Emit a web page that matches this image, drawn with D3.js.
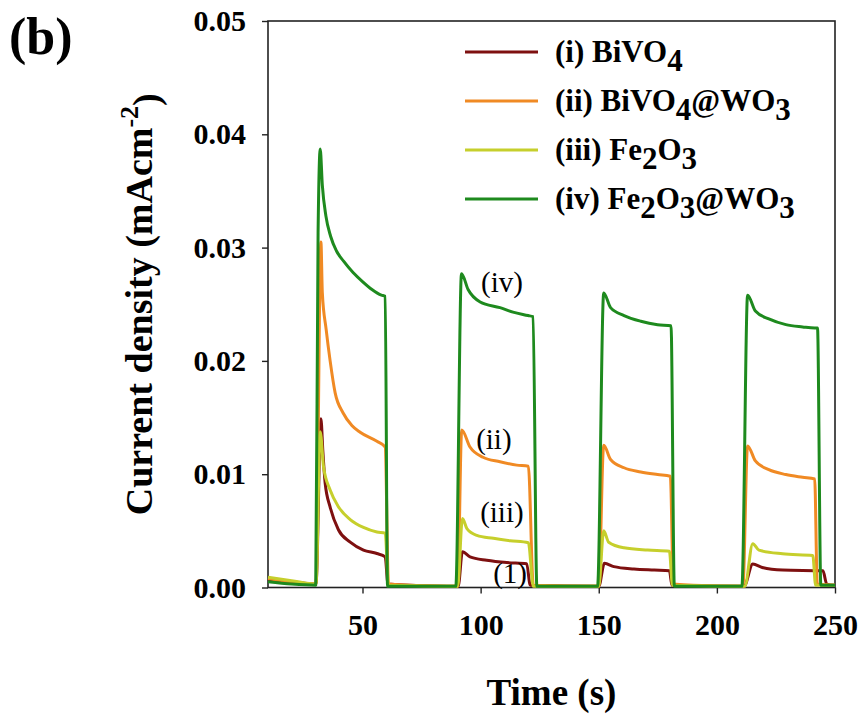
<!DOCTYPE html>
<html>
<head>
<meta charset="utf-8">
<script src="https://cdn.jsdelivr.net/npm/d3@7"></script>
<style>
  html, body { margin: 0; padding: 0; background: #ffffff; }
  svg { display: block; }
  text { font-family: "Liberation Serif", "Times New Roman", serif; fill: #000; }
</style>
</head>
<body>
<svg id="chart" width="863" height="720"></svg>
<script>
// ---------- data (time in s, current density in mA cm^-2) ----------
const xTicks = [50, 100, 150, 200, 250];
const yTicks = [0.00, 0.01, 0.02, 0.03, 0.04, 0.05];

const bivo4 = [
  [10, 0.0007], [20, 0.0005], [30.3, 0.0003], [32.4, 0.0149], [33.2, 0.0121], [34.2, 0.0092],
  [36.3, 0.0071], [39.8, 0.0051], [44.8, 0.0040], [50.4, 0.0033], [56.1, 0.0030], [59.6, 0.0027],
  [60.8, 0.0003], [70, 0.0002], [90.5, 0.0001], [92.3, 0.00316], [95.5, 0.0027], [102.6, 0.0024],
  [111.1, 0.0022], [119.5, 0.0021], [121.0, 0.0002], [150.0, 0.0001], [152.4, 0.00214],
  [156.4, 0.00184], [164.9, 0.00163], [173.5, 0.00154], [179.9, 0.00148], [181.0, 0.0002],
  [211.5, 0.0001], [215.2, 0.00207], [219.2, 0.00177], [227.8, 0.00154], [244.9, 0.00148],
  [246.5, 0.0003], [250, 0.0002]
];

const bivo4Wo3 = [
  [10, 0.0008], [20, 0.0005], [30.3, 0.0003], [32.4, 0.0305], [33.0, 0.0260], [34.6, 0.0228],
  [36.3, 0.0200], [38.4, 0.0172], [41.8, 0.0154], [45.5, 0.0143], [49.0, 0.0137], [56.1, 0.0129],
  [59.6, 0.0124], [61.0, 0.0003], [70, 0.0002], [90.3, 0.0001], [92.0, 0.0139], [95.5, 0.0124],
  [101.0, 0.0115], [108.2, 0.0111], [115.3, 0.0108], [120.2, 0.0107], [122.3, 0.0002],
  [150.0, 0.0001], [152.1, 0.01256], [155.0, 0.0113], [160.7, 0.01057], [167.8, 0.0102],
  [174.9, 0.00997], [180.3, 0.00982], [181.6, 0.0003], [190, 0.0002], [211.0, 0.0001],
  [213.0, 0.0125], [216.3, 0.01117], [222.0, 0.0104], [229.2, 0.00997], [236.3, 0.00973],
  [241.4, 0.00958], [242.5, 0.0003], [250, 0.0002]
];

const fe2o3 = [
  [10, 0.0009], [20, 0.0006], [30.3, 0.0003], [32.1, 0.01375], [33.5, 0.01066], [36.3, 0.0086],
  [39.8, 0.00713], [44.8, 0.0060], [50.4, 0.0053], [56.1, 0.0049], [59.6, 0.0048], [61.0, 0.0002],
  [90.3, 0.0001], [92.3, 0.0061], [94.2, 0.0052], [98.4, 0.0046], [105.4, 0.00434],
  [112.5, 0.00413], [120.2, 0.00395], [122.3, 0.0001], [150.0, 0.0001], [152.1, 0.0050],
  [154.2, 0.0040], [160.7, 0.0035], [170.7, 0.0033], [179.9, 0.0032], [181.2, 0.0002],
  [211.8, 0.0001], [215.2, 0.00387], [217.8, 0.0033], [227.8, 0.00297], [240.6, 0.00282],
  [241.8, 0.0002], [250, 0.0002]
];

const fe2o3Wo3 = [
  [10, 0.0005], [20, 0.0003], [30.2, 0.0002], [31.2, 0.0313], [32.1, 0.0387], [33.0, 0.0355],
  [34.5, 0.0328], [36.5, 0.0310], [39.0, 0.0297], [42.0, 0.0288], [46.0, 0.0278], [50.0, 0.0270],
  [54.0, 0.0263], [58.0, 0.0258], [59.6, 0.0257], [60.6, 0.0001], [75, 0.0001], [89.5, 0.0001],
  [91.9, 0.0277], [94.7, 0.0263], [99.8, 0.0252], [108.2, 0.0247], [113.7, 0.0243],
  [120.1, 0.0240], [122.2, 0.0239], [123.8, 0.0001], [149.5, 0.0001], [152.1, 0.0260],
  [155.0, 0.0247], [160.7, 0.0240], [167.8, 0.0235], [174.9, 0.0232], [180.6, 0.0231],
  [182.0, 0.0001], [210.6, 0.0001], [213.0, 0.0258], [216.3, 0.0244], [222.0, 0.0237],
  [229.2, 0.0232], [236.3, 0.0230], [241.4, 0.0229], [242.6, 0.0229], [244.0, 0.0002],
  [250, 0.0002]
];

const seriesNames = ["(i) BiVO4", "(ii) BiVO4@WO3", "(iii) Fe2O3", "(iv) Fe2O3@WO3"];
const seriesColors = ["#7e1010", "#f08a24", "#c6cf2c", "#1e8a1e"];
const seriesData = [bivo4, bivo4Wo3, fe2o3, fe2o3Wo3];

const annotations = [
  { text: "(iv)", t: 100.2, v: 0.0261 },
  { text: "(ii)", t: 98.1, v: 0.0122 },
  { text: "(iii)", t: 99.8, v: 0.0058 },
  { text: "(1)", t: 105.3, v: 0.0004 }
];

// ---------- layout ----------
const svg = d3.select("#chart");
const mLeft = 268, mRight = 835, mTop = 21, mBottom = 587.5;
const x = d3.scaleLinear().domain([10, 250]).range([mLeft, mRight]);
const y = d3.scaleLinear().domain([0, 0.05]).range([mBottom, mTop]);

// frame
svg.append("rect")
  .attr("x", mLeft).attr("y", mTop)
  .attr("width", mRight - mLeft).attr("height", mBottom - mTop)
  .attr("fill", "none").attr("stroke", "#222").attr("stroke-width", 1.6);

// axes
const xAxis = d3.axisBottom(x).tickValues(xTicks).tickSize(6).tickPadding(20)
  .tickFormat(d3.format("d"));
const gx = svg.append("g").attr("transform", `translate(0,${mBottom})`).call(xAxis);
gx.select(".domain").remove();
gx.selectAll(".tick line").attr("stroke", "#222").attr("stroke-width", 1.4);
gx.selectAll(".tick text")
  .attr("font-family", "'Liberation Serif', 'Times New Roman', serif")
  .attr("font-size", 30).attr("font-weight", "bold").attr("fill", "#000");

const yAxis = d3.axisLeft(y).tickValues(yTicks).tickSize(6).tickPadding(16)
  .tickFormat(d3.format(".2f"));
const gy = svg.append("g").attr("transform", `translate(${mLeft},0)`).call(yAxis);
gy.select(".domain").remove();
gy.selectAll(".tick line").attr("stroke", "#222").attr("stroke-width", 1.4);
gy.selectAll(".tick text")
  .attr("font-family", "'Liberation Serif', 'Times New Roman', serif")
  .attr("font-size", 30).attr("font-weight", "bold").attr("fill", "#000");

// lines
const line = d3.line().curve(d3.curveMonotoneX).x(d => x(d[0])).y(d => y(d[1]));
seriesData.forEach((data, i) => {
  svg.append("path")
    .datum(data)
    .attr("d", line)
    .attr("fill", "none")
    .attr("stroke", seriesColors[i])
    .attr("stroke-width", 3)
    .attr("stroke-linejoin", "round");
});

// annotations
annotations.forEach(a => {
  svg.append("text")
    .attr("x", x(a.t)).attr("y", y(a.v))
    .attr("font-size", 29)
    .text(a.text);
});

// legend
const legendRows = [
  [["(i) BiVO", 0], ["4", 1]],
  [["(ii) BiVO", 0], ["4", 1], ["@WO", 0], ["3", 1]],
  [["(iii) Fe", 0], ["2", 1], ["O", 0], ["3", 1]],
  [["(iv) Fe", 0], ["2", 1], ["O", 0], ["3", 1], ["@WO", 0], ["3", 1]]
];
const legend = svg.append("g");
legendRows.forEach((parts, i) => {
  const ly = 52 + i * 49;
  legend.append("line")
    .attr("x1", 465).attr("x2", 538).attr("y1", ly).attr("y2", ly)
    .attr("stroke", seriesColors[i]).attr("stroke-width", 3);
  const t = legend.append("text")
    .attr("x", 555).attr("y", ly + 10)
    .attr("font-size", 31).attr("font-weight", "bold");
  let shifted = false;
  parts.forEach(([s, sub]) => {
    const ts = t.append("tspan").text(s);
    if (sub && !shifted) { ts.attr("dy", "0.28em"); shifted = true; }
    else if (!sub && shifted) { ts.attr("dy", "-0.28em"); shifted = false; }
  });
});

// axis titles
svg.append("text")
  .attr("x", (mLeft + mRight) / 2).attr("y", 705)
  .attr("text-anchor", "middle")
  .attr("font-size", 37).attr("font-weight", "bold")
  .text("Time (s)");

const yl = svg.append("text")
  .attr("transform", `translate(152,${(mTop + mBottom) / 2}) rotate(-90)`)
  .attr("text-anchor", "middle")
  .attr("font-size", 38).attr("font-weight", "bold");
yl.append("tspan").text("Current density (mAcm");
yl.append("tspan").attr("dy", "-0.55em").attr("font-size", 26).text("-2");
yl.append("tspan").attr("dy", "0.55em").text(")");

// panel label
svg.append("text")
  .attr("x", 9).attr("y", 54)
  .attr("font-size", 52).attr("font-weight", "bold")
  .text("(b)");
</script>
</body>
</html>
